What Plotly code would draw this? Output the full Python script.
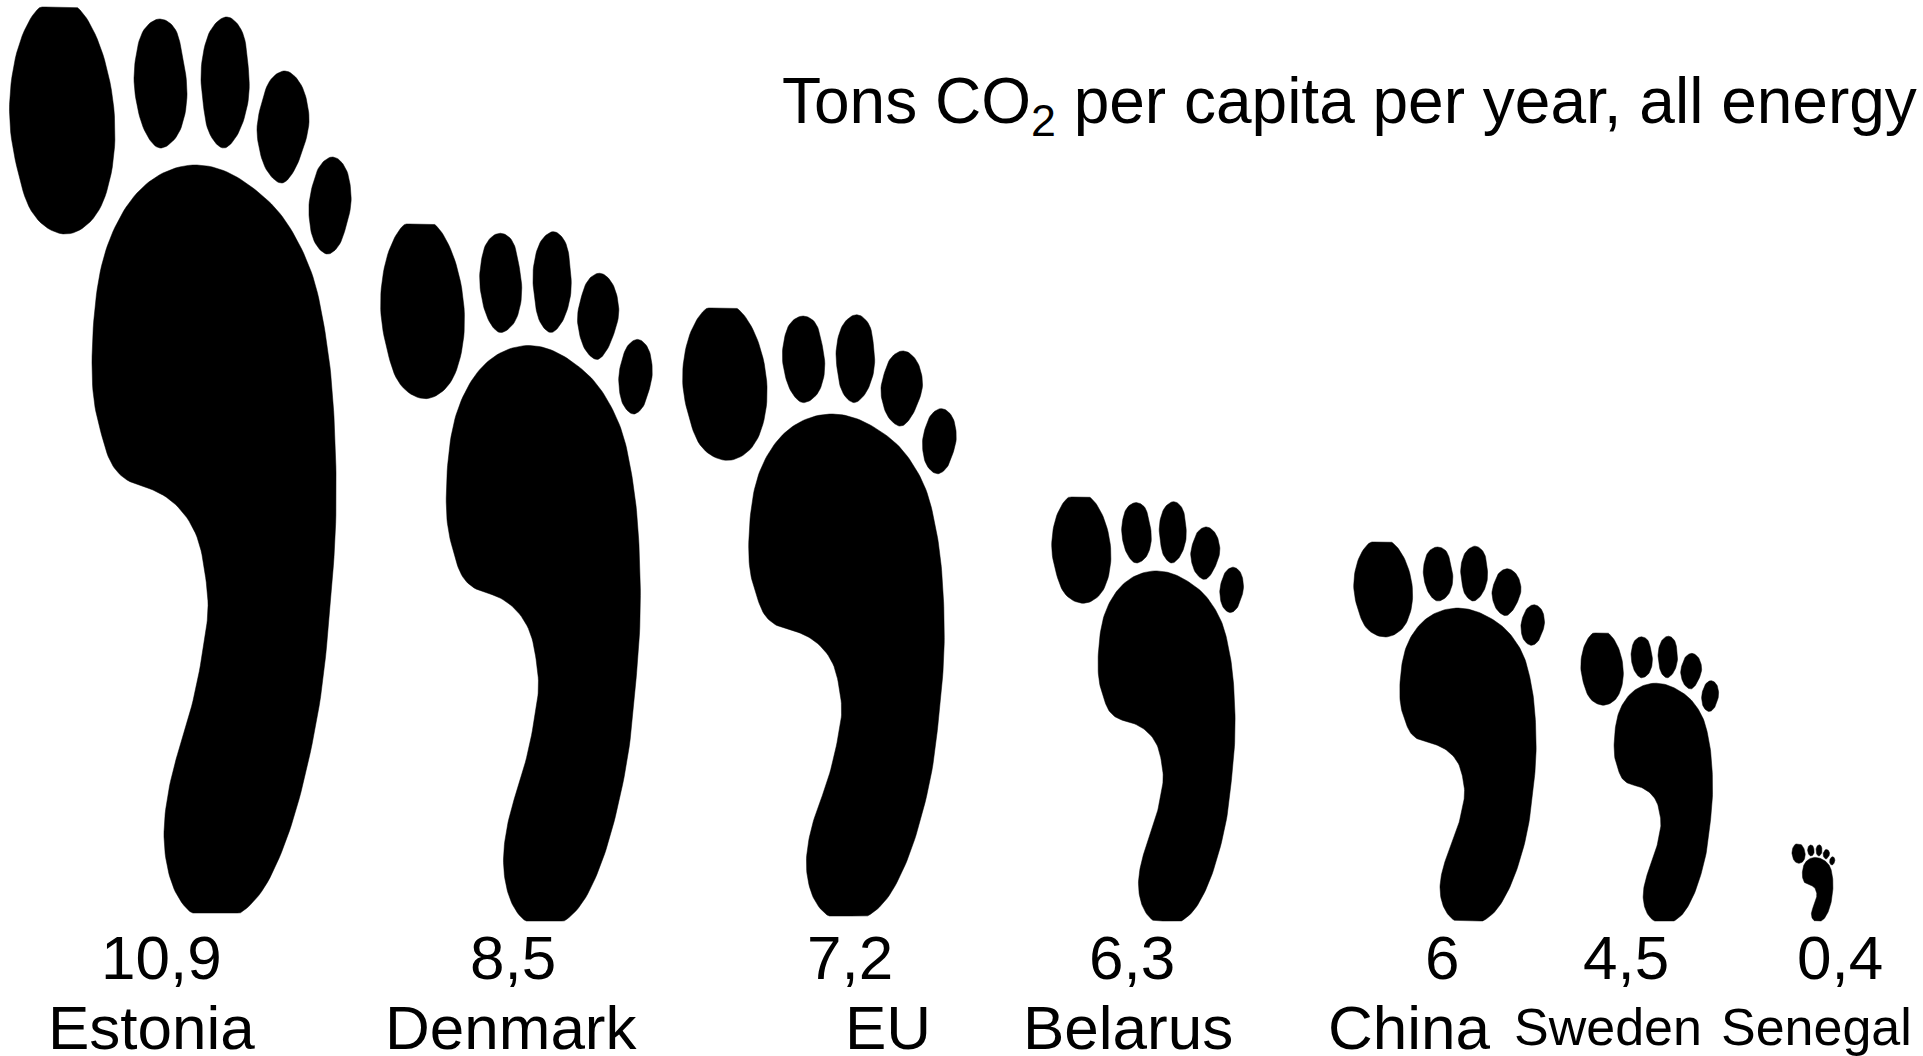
import numpy as np
import plotly.graph_objects as go

# ---- chart data ----
countries = ["Estonia", "Denmark", "EU", "Belarus", "China", "Sweden", "Senegal"]
values = ["10,9", "8,5", "7,2", "6,3", "6", "4,5", "0,4"]
title_text = "Tons CO<sub>2</sub> per capita per year, all energy"

# ---- layout of each footprint: left, top, right, bottom on a page-sized axis ----
foot_left = [10, 381, 683, 1052, 1354, 1581, 1792]
foot_top = [7, 224, 308, 497, 542, 633, 844]
foot_right = [352, 653, 957, 1244, 1545, 1719, 1835]
foot_bottom = [913, 921, 916, 921, 921, 921, 921]

value_x = [161, 513, 850, 1132, 1442, 1626, 1840]
name_x = [151, 511, 888, 1128, 1409, 1608, 1816]
name_size = [62, 62, 62, 62, 62, 52, 52]
VALUE_Y = 957
NAME_Y = 1027

# ---- footprint glyph outline (template, in its own units) ----
SOLE = [(197,165),(227,172),(253,188),(277,210),(297,240),(313,277),(323,320),(330,367),
        (334,417),(336,473),(335,540),(330,607),(322,687),(308,763),(293,820),(277,863),
        (255,900),(230,918),(200,918),(177,895),(168,870),(164,837),(167,800),(175,763),
        (185,730),(197,683),(205,637),(208,610),(205,573),(197,537),(178,507),(153,490),
        (127,480),(113,466),(103,440),(95,407),(92,363),(95,307),(103,260),(117,223),
        (137,193),(163,173)]
TOE1 = [(45,4),(72,4),(90,24),(106,65),(115,133),(108,187),(90,222),(67,234),(38,220),(20,180),
        (10,125),(13,70),(27,25)]
TOE2 = [(160,19),(172,25),(181,48),(187,90),(183,122),(172,142),(160,148),(148,137),(138,110),
        (134,78),(137,50),(146,27)]
TOE3 = [(227,17),(239,26),(247,55),(249,93),(243,122),(234,140),(224,148),(212,138),(204,110),
        (201,80),(205,45),(215,24)]
TOE4 = [(285,71),(298,80),(307,102),(309,122),(302,152),(292,174),(282,183),(270,175),(260,152),
        (257,130),(263,98),(273,77)]
TOE5 = [(333,157),(343,164),(350,184),(351,203),(345,230),(337,248),(328,254),(317,246),(310,225),
        (309,205),(314,180),(323,162)]
GLYPH = [SOLE, TOE1, TOE2, TOE3, TOE4, TOE5]
GX0, GX1, GY0, GY1 = 10, 352, 7, 913


def smooth_closed(points, per_seg=8):
    """Periodic cubic spline through a closed outline, chord-length parameterised."""
    p = np.array(points, dtype=float)
    n = len(p)
    h = np.linalg.norm(np.roll(p, -1, axis=0) - p, axis=1)
    A = np.zeros((n, n))
    B = np.zeros((n, 2))
    for i in range(n):
        hm, hp = h[i - 1], h[i]
        A[i, (i - 1) % n] += hm
        A[i, i] += 2 * (hm + hp)
        A[i, (i + 1) % n] += hp
        B[i] = 6 * ((p[(i + 1) % n] - p[i]) / hp - (p[i] - p[i - 1]) / hm)
    m = np.linalg.solve(A, B)
    out = []
    for i in range(n):
        j = (i + 1) % n
        for t in np.linspace(0, 1, per_seg, endpoint=False):
            a, b = 1 - t, t
            out.append(a * p[i] + b * p[j]
                       + ((a**3 - a) * m[i] + (b**3 - b) * m[j]) * h[i]**2 / 6)
    out.append(out[0])
    return np.array(out)


# the source picture crops the foot flat at top and bottom
SMOOTH = [np.clip(smooth_closed(part), [-1e9, GY0], [1e9, GY1]) for part in GLYPH]


def place(i):
    sx = (foot_right[i] - foot_left[i]) / (GX1 - GX0)
    sy = (foot_bottom[i] - foot_top[i]) / (GY1 - GY0)
    xs, ys = [], []
    for part in SMOOTH:
        xs.extend((foot_left[i] + (part[:, 0] - GX0) * sx).tolist() + [None])
        ys.extend((foot_top[i] + (part[:, 1] - GY0) * sy).tolist() + [None])
    return xs, ys


fig = go.Figure()
for i, c in enumerate(countries):
    xs, ys = place(i)
    fig.add_trace(go.Scatter(
        x=xs, y=ys, mode="lines", name=c, fill="toself", fillcolor="#000000",
        line=dict(color="#000000", width=0.5),
        hoverinfo="skip", showlegend=False,
    ))

FONT = "Liberation Sans, Arial, sans-serif"
for i in range(len(countries)):
    fig.add_annotation(x=value_x[i], y=VALUE_Y, text=values[i], showarrow=False,
                       xanchor="center", yanchor="middle",
                       font=dict(family=FONT, size=62, color="#000000"))
    fig.add_annotation(x=name_x[i], y=NAME_Y, text=countries[i], showarrow=False,
                       xanchor="center", yanchor="middle",
                       font=dict(family=FONT, size=name_size[i], color="#000000"))
fig.add_annotation(x=780, y=105, text=title_text, showarrow=False,
                   xanchor="left", yanchor="middle",
                   font=dict(family=FONT, size=64, color="#000000"))

fig.update_layout(
    width=1923, height=1056, margin=dict(l=0, r=0, t=0, b=0),
    paper_bgcolor="#ffffff", plot_bgcolor="#ffffff", showlegend=False,
    xaxis=dict(range=[0, 1923], visible=False, fixedrange=True),
    yaxis=dict(range=[1056, 0], visible=False, fixedrange=True),
)
fig.write_html("out.html", config={"displayModeBar": False},
               post_script="document.body.style.margin='0';document.body.style.overflow='hidden';")
